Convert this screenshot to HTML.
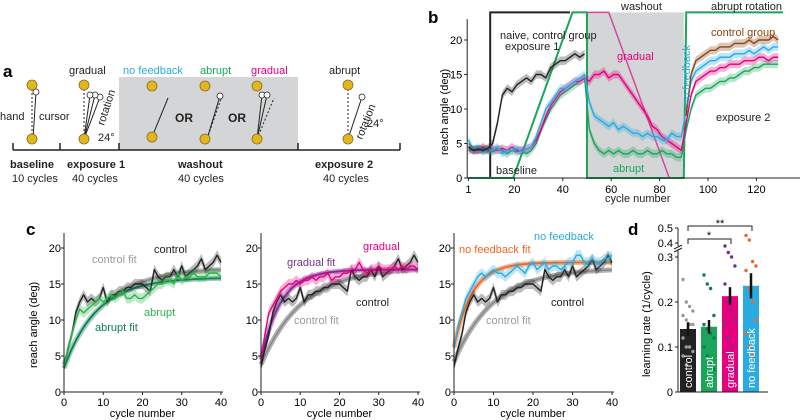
<!DOCTYPE html>
<html><head><meta charset="utf-8"><style>
body{margin:0;background:#fff;}
svg{display:block;font-family:"Liberation Sans",Arial,sans-serif;}
</style></head><body>
<svg id="fig" width="800" height="420" viewBox="0 0 800 420">
<!-- Panel a -->
<g>
<text x="3" y="77" font-size="17" font-weight="bold">a</text>
<rect x="119" y="77" width="179" height="73" fill="#d4d5d7"/>
<path d="M13,150H400M13,143V150M60,143V150M119,143V150M298,143V150M400,143V150" stroke="#222" stroke-width="1.5" fill="none"/>
<g font-size="11" fill="#222">
<text x="10" y="168" font-weight="bold">baseline</text><text x="12" y="182">10 cycles</text>
<text x="67" y="168" font-weight="bold">exposure 1</text><text x="72" y="182">40 cycles</text>
<text x="178" y="168" font-weight="bold">washout</text><text x="178" y="182">40 cycles</text>
<text x="315" y="168" font-weight="bold">exposure 2</text><text x="323" y="182">40 cycles</text>
<text x="69" y="74">gradual</text><text x="329" y="74">abrupt</text>
<text x="123" y="74" fill="#29abe2">no feedback</text><text x="200" y="74" fill="#1aa55a">abrupt</text><text x="251" y="74" fill="#e6007e">gradual</text>
<text x="0" y="120">hand</text><text x="39" y="120">cursor</text>
<text x="175" y="122" font-weight="bold" font-size="12">OR</text><text x="228" y="122" font-weight="bold" font-size="12">OR</text>
<text x="98" y="141">24°</text><text x="367" y="127">24°</text>
<text transform="translate(104,126) rotate(-72)" font-size="11">rotation</text>
<text transform="translate(362,140) rotate(-68)" font-size="11">rotation</text>
</g>
<g stroke="#222" stroke-width="1" fill="none">
<line x1="32" y1="139" x2="32" y2="85" stroke-dasharray="2,2"/><line x1="33" y1="139" x2="36" y2="92"/>
<line x1="84" y1="139" x2="84" y2="85" stroke-dasharray="2,2"/><line x1="84" y1="139" x2="90" y2="95"/><line x1="84" y1="139" x2="95" y2="95"/><line x1="84" y1="139" x2="100" y2="97"/>
<line x1="152" y1="137" x2="168" y2="98"/>
<line x1="207" y1="139" x2="222" y2="96" stroke-dasharray="2,2"/><line x1="207" y1="139" x2="220" y2="96"/>
<line x1="257" y1="139" x2="262" y2="95"/><line x1="257" y1="139" x2="267" y2="95"/><line x1="257" y1="139" x2="274" y2="98" stroke-dasharray="2,2"/>
<line x1="348" y1="139" x2="348" y2="85" stroke-dasharray="2,2"/><line x1="348" y1="139" x2="362" y2="97"/>
</g>
<g fill="#fff" stroke="#222" stroke-width="0.8">
<circle cx="36" cy="92" r="3"/><circle cx="100" cy="97" r="3"/><circle cx="95" cy="95" r="3"/><circle cx="90" cy="95" r="3"/><circle cx="220" cy="96" r="3"/><circle cx="262" cy="95" r="3"/><circle cx="267" cy="95" r="3"/><circle cx="362" cy="97" r="3"/>
</g>
<g fill="#e2b522" stroke="#8a6d10" stroke-width="0.8">
<circle cx="32" cy="85" r="5"/><circle cx="32" cy="139" r="5"/><circle cx="84" cy="85" r="5"/><circle cx="84" cy="139" r="5"/>
<circle cx="152" cy="86" r="5"/><circle cx="152" cy="137" r="5"/><circle cx="205" cy="86" r="5"/><circle cx="205" cy="139" r="5"/>
<circle cx="257" cy="86" r="5"/><circle cx="257" cy="139" r="5"/><circle cx="348" cy="85" r="5"/><circle cx="348" cy="139" r="5"/>
</g>
</g>
<g id="pb">
<text x="428" y="23" font-size="17" font-weight="bold">b</text>
</g>
<g id="pc">
<text x="26" y="235" font-size="17" font-weight="bold">c</text>
</g>
<g id="pd">
<text x="628" y="235" font-size="17" font-weight="bold">d</text>
</g>
</svg>
<script>
// ---------- Panel b data (every 2 cycles, starting cycle 1) ----------
const bBlack=[4.5,4,4.2,4,4.3,5,8,12,13,12.5,13.5,14,14.5,14,15,15,14.5,16,16.5,17,17,17.5,18,17.5,18];
const bCyan=[5.5,4,4.5,3.8,4.2,4,4.5,3.5,4,4,4.3,3.8,4.2,4.5,6,8,10,11,12,13,13,13.5,14,14.5,15,11,9,8.5,8,7.5,8,7,7.5,7,6.5,6.5,6,6.5,6,6,5.5,5.5,6.5,6,6,10,14,15.5,16,16.5,17,17,17.5,17.5,17.5,18,18,18,18.5,18,18.5,19,18.5,19,19];
const bPink=[4.5,4,4,4.5,4,4.2,4,4.3,4,4.5,4,4,4.2,4.5,5.5,7,9,10.5,11.5,12.5,13,13.5,14,14,14.5,14,15,15,15.5,14.5,15,15,14,13,12,11,10,9,7.5,7,6,5.5,5,4.5,4,8,12,14,14.5,15,15.5,15.5,16,16,16.5,16.5,16.5,17,17,17,17.5,17.5,17,17.5,17.5];
const bGreen=[4,4.2,4,4.3,4,3.8,4.2,4,3.5,4,3.8,4,3.5,4,5,7,8.5,10,11,12,12.5,13,13.5,14,14.5,7,5,4,3.5,4,3.5,4,3.5,3.5,4,3.5,3.5,4,3.5,3.5,4,3.5,3.5,3,3,7,10,12,12.5,13,13,13.5,14,14,14.5,14.5,15,15.5,15.5,16,16,16.5,16.5,16.5,16.5];
const bBrown=[9,15,17,17.5,18,18.5,18.5,19,19,19,19.5,19.5,19.5,20,19.5,20,20,20,20.5,20];
const bBrownStart=91;
const bXTicks=[1,20,40,60,80,100,120];
const bYTicks=[0,5,10,15,20];
// ---------- Panel c data (cycles 0..40) ----------
const cControl=[3.5,6,8,11,12.5,13.5,12.5,13,12.5,13,14.5,12.5,13.5,13.5,14,14,14.5,14.5,15,15,15,14.5,14,17,16,15.5,16,16,17,16,17.5,16,16.5,17,17.5,18.5,17,17.5,18,19,18];
const cAbrupt=[3.5,6,8,10,11.5,11,11.5,12,12.5,13,12.5,13,13.5,13,13.5,14,13,13,13.5,13,13,13.5,14,14.5,15,15,15.5,15.5,15,16.5,15.5,16,16,16.5,16,16,16,16.5,16.5,16.5,16];
const cGradual=[4.5,8,11,12,13,14,14.5,15,15,15.5,15,15.5,15.5,16,15.5,16,16,16.5,15.5,16,16,16.5,16.5,17,17,18,17,16.5,17,17,17.5,17,17,17,17.5,17,17.5,17,17.5,17.5,17];
const cNoFb=[6,9,11,13,14,15,16,16.5,16,16.5,17,16.5,16.5,16,16.5,17,17.5,17,16.5,17.5,18,17,17.5,18,17,17.5,17.5,17,17.5,18,18,19,19,18,18,18.5,18,18,18.5,18.5,19];
// fit params [asymptote, start, rate]
const fitControl=[17.3,3.8,0.095];
const fitAbrupt=[15.9,3.3,0.12];
const fitGradual=[17,4.5,0.2];
const fitNoFb=[18,6.2,0.22];
const cXTicks=[0,10,20,30,40];
const cYTicks=[0,5,10,15,20];
// ---------- Panel d data ----------
const dGroups=["control","abrupt","gradual","no feedback"];
const dMeans=[0.14,0.145,0.213,0.236];
const dSem=[0.015,0.015,0.02,0.028];
const dDots=[[0.25,0.2,0.19,0.18,0.17,0.16,0.15,0.15,0.12,0.1,0.1,0.09,0.08,0.06],
[0.26,0.24,0.23,0.17,0.15,0.14,0.13,0.12,0.1,0.08,0.06,0.05],
[0.38,0.31,0.3,0.28,0.24,0.2,0.18,0.16,0.15,0.12,0.1,0.05],
[0.45,0.42,0.29,0.28,0.27,0.23,0.2,0.16,0.13,0.1,0.08]];
const dYTicks=[0,0.1,0.2,0.3];
</script>
<script>
const NS="http://www.w3.org/2000/svg";
function mk(parent,tag,attrs,text){const e=document.createElementNS(NS,tag);for(const k in attrs)e.setAttribute(k,attrs[k]);if(text!==undefined)e.textContent=text;parent.appendChild(e);return e;}
const pb=document.getElementById('pb'),pc=document.getElementById('pc'),pd=document.getElementById('pd');
// ---- Panel b ----
const bx=c=>466+2.42*c, by=v=>178-6.9*v;
let sh=mk(pb,'rect',{x:bx(50),y:by(24),width:bx(90)-bx(50),height:by(0)-by(24),fill:'#d4d5d7'});

function series(parent,arr,start,step,xf,yf,color,name,band){
  const pts=arr.map((v,i)=>[xf(start+i*step),yf(v)]);
  if(band){const up=arr.map((v,i)=>xf(start+i*step)+','+yf(v+band)).join(' ');const dn=arr.map((v,i)=>xf(start+i*step)+','+yf(v-band)).reverse().join(' ');
    const b=mk(parent,'polygon',{points:up+' '+dn,fill:color,opacity:0.3});
    
    }
  const l=mk(parent,'polyline',{points:pts.map(p=>p.join(',')).join(' '),fill:'none',stroke:color,'stroke-width':1.4,'stroke-linejoin':'round'});
  
  
}
// schedule lines
let s1=mk(pb,'polyline',{points:[[1,0],[10,0],[10,24],[43,24]].map(p=>bx(p[0])+','+by(p[1])).join(' '),fill:'none',stroke:'#222','stroke-width':2});

let s2=mk(pb,'polyline',{points:[[1,0],[19.5,0],[44,24],[50,24],[50,0],[90,0],[91,24],[131,24]].map(p=>bx(p[0])+','+by(p[1])).join(' '),fill:'none',stroke:'#1aa55a','stroke-width':2});

let s3=mk(pb,'polyline',{points:[[50,24],[59,24],[84,0]].map(p=>bx(p[0])+','+by(p[1])).join(' '),fill:'none',stroke:'#d04a9a','stroke-width':1.5});

series(pb,bGreen,1,2,bx,by,'#1aa55a','b-abrupt-line',0.6);
series(pb,bPink,1,2,bx,by,'#e6007e','b-gradual-line',0.6);
series(pb,bCyan,1,2,bx,by,'#29abe2','b-nofeedback-line',0.6);
series(pb,bBlack,1,2,bx,by,'#222','b-control-line',0.6);
series(pb,bBrown,bBrownStart,2,bx,by,'#8b4513','b-control2-line',0.6);
mk(pb,'path',{d:`M${bx(0.5)},${by(23)}V${by(0)}H800`,stroke:'#222',fill:'none','stroke-width':1});
bXTicks.forEach(t=>{mk(pb,'line',{x1:bx(t),x2:bx(t),y1:by(0),y2:by(0)+3,stroke:'#222'});let e=mk(pb,'text',{x:bx(t),y:193,'font-size':11,'text-anchor':'middle'},t);});
bYTicks.forEach(t=>{mk(pb,'line',{x1:bx(0.5)-3,x2:bx(0.5),y1:by(t),y2:by(t),stroke:'#222'});let e=mk(pb,'text',{x:bx(0.5)-5,y:by(t)+4,'font-size':11,'text-anchor':'end'},t);});
[["cycle number",605,202,'#222',11],["reach angle (deg)",0,0,'#222',11],["naive, control group",500,39,'#222',11],["exposure 1",505,50,'#222',11],["gradual",617,60,'#e6007e',11],["abrupt",613,172,'#1aa55a',11],["baseline",496,174,'#222',11],["washout",621,10,'#222',11],["abrupt rotation",711,10,'#222',11],["control group",711,36,'#8b4513',11],["exposure 2",716,121,'#222',11]].forEach(a=>{
 if(a[0]==="reach angle (deg)"){let e=mk(pb,'text',{transform:'translate(448,155) rotate(-90)','font-size':11},a[0]);return;}
 let e=mk(pb,'text',{x:a[1],y:a[2],'font-size':a[4],fill:a[3]},a[0]);});
let nf=mk(pb,'text',{transform:'translate(690,105) rotate(-90)','font-size':11,fill:'#29abe2'},'no feedback');
// ---- Panel c ----
function subplot(x0,x1,lines,fits,labels){
  const xf=c=>x0+(x1-x0)*c/40, yf=v=>392-7.2*v;
  fits.forEach(f=>{const p=f[0];const pts=[];for(let i=0;i<=80;i++){const t=i/2;pts.push(xf(t)+','+yf(p[0]-(p[0]-p[1])*Math.exp(-p[2]*t)));}
    const b=mk(pc,'polyline',{points:pts.join(' '),fill:'none',stroke:f[1],'stroke-width':f[2]});
    
    });
  lines.forEach(l=>series(pc,l[0],0,1,xf,yf,l[1],l[2],0.7));
  fits.filter(f=>f[2]<5).forEach(()=>{});
  mk(pc,'path',{d:`M${x0},233V392H${x1+2}`,stroke:'#222',fill:'none'});
  cXTicks.forEach(t=>{mk(pc,'line',{x1:xf(t),x2:xf(t),y1:392,y2:395,stroke:'#222'});let e=mk(pc,'text',{x:xf(t),y:406,'font-size':11,'text-anchor':'middle'},t);});
  cYTicks.forEach(t=>{mk(pc,'line',{x1:x0-3,x2:x0,y1:yf(t),y2:yf(t),stroke:'#222'});let e=mk(pc,'text',{x:x0-3,y:yf(t)+4,'font-size':11,'text-anchor':'end'},t);});
  let xt=mk(pc,'text',{x:(x0+x1)/2,y:417,'font-size':11,'text-anchor':'middle'},'cycle number');
  labels.forEach(a=>{let e=mk(pc,'text',{x:a[1],y:a[2],'font-size':11,fill:a[3]},a[0]);});
}
subplot(64,221,[[cControl,'#222','c1-control'],[cAbrupt,'#2cb34a','c1-abrupt']],
 [[fitControl,'#b0b0b0',5,'c1-control-fit-band'],[fitControl,'#888',1.5,'c1-control-fit'],[fitAbrupt,'#9ad0b4',5,'c1-abrupt-fit-band'],[fitAbrupt,'#0e7a5e',1.8,'c1-abrupt-fit']],
 [['control',154,253,'#222'],['control fit',92,263,'#999'],['abrupt',144,316,'#2cb34a'],['abrupt fit',95,331,'#0e7a5e']]);
subplot(261,418,[[cControl,'#222','c2-control'],[cGradual,'#e6007e','c2-gradual']],
 [[fitControl,'#b0b0b0',5,'c2-control-fit-band'],[fitControl,'#888',1.5,'c2-control-fit'],[fitGradual,'#c79ad6',5,'c2-gradual-fit-band'],[fitGradual,'#7b2d8e',1.8,'c2-gradual-fit']],
 [['gradual',363,250,'#e6007e'],['gradual fit',287,266,'#7b2d8e'],['control',356,306,'#222'],['control fit',294,324,'#999']]);
subplot(454,612,[[cControl,'#222','c3-control'],[cNoFb,'#29abe2','c3-nofeedback']],
 [[[17.2,4.2,0.1],'#b0b0b0',5,'c3-control-fit-band'],[[17.2,4.2,0.1],'#888',1.5,'c3-control-fit'],[fitNoFb,'#f6b896',5,'c3-nofeedback-fit-band'],[fitNoFb,'#f26522',1.8,'c3-nofeedback-fit']],
 [['no feedback',534,240,'#29abe2'],['no feedback fit',459,253,'#f26522'],['control',551,306,'#222'],['control fit',486,324,'#999']]);
let cyt=mk(pc,'text',{transform:'translate(37,368) rotate(-90)','font-size':11},'reach angle (deg)');
// ---- Panel d ----
const dy=v=> v<=0.32 ? 392-450*v/1 : 243-(v-0.4)*150;
const dColors=['#222','#1aa55a','#e6007e','#29abe2'];
const dDotC=['#9a9a9a','#0e7a5e','#7b2d8e','#f26522'];
dGroups.forEach((g,i)=>{
  const x=680+i*21;
  const b=mk(pd,'rect',{x:x,y:dy(dMeans[i]),width:16,height:392-dy(dMeans[i]),fill:dColors[i]});
  
  
  dDots[i].forEach((v,j)=>{const c=mk(pd,'circle',{cx:x+3+(j%4)*3.3,cy:dy(v),r:1.7,fill:dDotC[i]});
    
    });
  mk(pd,'line',{x1:x+8,x2:x+8,y1:dy(dMeans[i]-dSem[i]),y2:dy(dMeans[i]+dSem[i]),stroke:'#111','stroke-width':2.5});
  const t=mk(pd,'text',{transform:`translate(${x+12},388) rotate(-90)`,'font-size':11,fill:'#fff'},g);
  
  
});
mk(pd,'path',{d:'M678,228V246M678,250V392H768',stroke:'#222',fill:'none'});
mk(pd,'path',{d:'M674,249L682,245M674,252L682,248',stroke:'#222'});
dYTicks.forEach(t=>{mk(pd,'line',{x1:675,x2:678,y1:dy(t),y2:dy(t),stroke:'#222'});let e=mk(pd,'text',{x:673,y:dy(t)+4,'font-size':11,'text-anchor':'end'},t);});
[0.4,0.5].forEach(t=>{mk(pd,'line',{x1:675,x2:678,y1:dy(t),y2:dy(t),stroke:'#222'});let e=mk(pd,'text',{x:673,y:dy(t)+4,'font-size':11,'text-anchor':'end'},t);});
let dyt=mk(pd,'text',{transform:'translate(650,377) rotate(-90)','font-size':11},'learning rate (1/cycle)');
mk(pd,'path',{d:'M688,244V239H731V244M688,231V226H752V231',stroke:'#222',fill:'none'});
let s1t=mk(pd,'text',{x:709,y:239,'font-size':11,'text-anchor':'middle'},'*');
let s2t=mk(pd,'text',{x:720,y:227,'font-size':11,'text-anchor':'middle'},'**');
</script>
</body></html>
